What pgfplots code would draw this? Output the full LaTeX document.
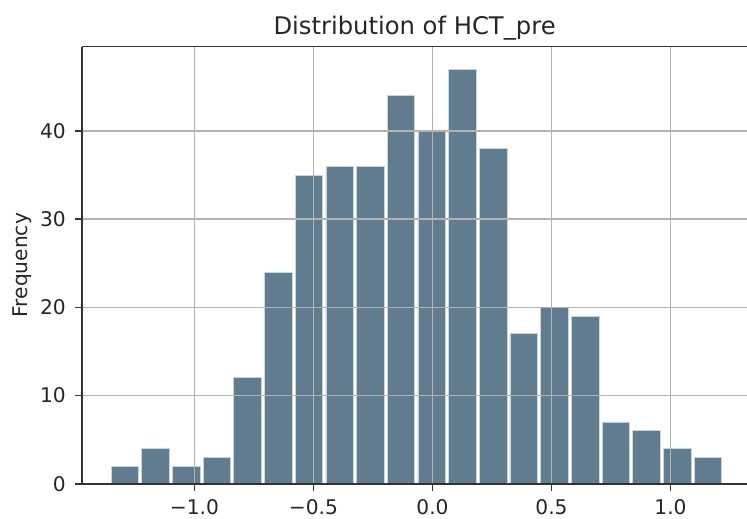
\documentclass[border=0pt]{standalone}
\usepackage{pgfplots}
\pgfplotsset{compat=1.18}
\usepackage{fontspec}
\setmainfont{DejaVu Sans}
\definecolor{barc}{HTML}{607C8E}
\definecolor{edgec}{HTML}{C9D4DC}
\definecolor{txt}{HTML}{262626}
\begin{document}
\begin{tikzpicture}
\begin{axis}[
  scale only axis, width=329pt, height=216.3pt,
  xmin=-1.4714, xmax=1.3214, ymin=0, ymax=49.55,
  axis x line=box, axis y line=left,
  x axis line style={-}, y axis line style={-},
  axis line style={black!80, line width=0.8pt},
  ybar, bar width=0.116,
  axis on top,
  grid=major, grid style={color=gray!60, line width=0.8pt},
  xtick={-1,-0.5,0,0.5,1}, xticklabels={−1.0,−0.5,0.0,0.5,1.0},
  ytick={0,10,20,30,40}, yticklabels={0,10,20,30,40},
  tick align=outside, xtick pos=left, ytick pos=left,
  major tick length=3.5pt, tick style={black!80, line width=0.8pt},
  ticklabel style={font=\fontsize{10}{12}\selectfont, text=txt},
  xticklabel shift=0.9pt, yticklabel shift=1.1pt,
  title={Distribution of HCT\_pre},
  title style={font=\fontsize{12}{14}\selectfont, text=txt, at={(rel axis cs:0.5,1)}, anchor=base},
  ylabel={Frequency},
  ylabel style={font=\fontsize{10}{12}\selectfont, text=txt, at={(axis description cs:-0.0909,0.5)}, anchor=center},
]
\addplot[fill=barc, draw=edgec, line width=0.4pt] coordinates {
(-1.2920,2) (-1.1631,4) (-1.0342,2) (-0.9053,3) (-0.7764,12)
(-0.6475,24) (-0.5186,35) (-0.3897,36) (-0.2608,36) (-0.1319,44)
(-0.0030,40) (0.1259,47) (0.2548,38) (0.3837,17) (0.5126,20)
(0.6415,19) (0.7704,7) (0.8993,6) (1.0282,4) (1.1571,3)
};
\coordinate (sw) at (rel axis cs:0,0);
\coordinate (ne) at (rel axis cs:1,1);
\end{axis}
\pgfresetboundingbox
\useasboundingbox ([xshift=-40.7pt,yshift=-17pt]sw) rectangle ([yshift=23.1pt]ne);
\end{tikzpicture}
\end{document}
